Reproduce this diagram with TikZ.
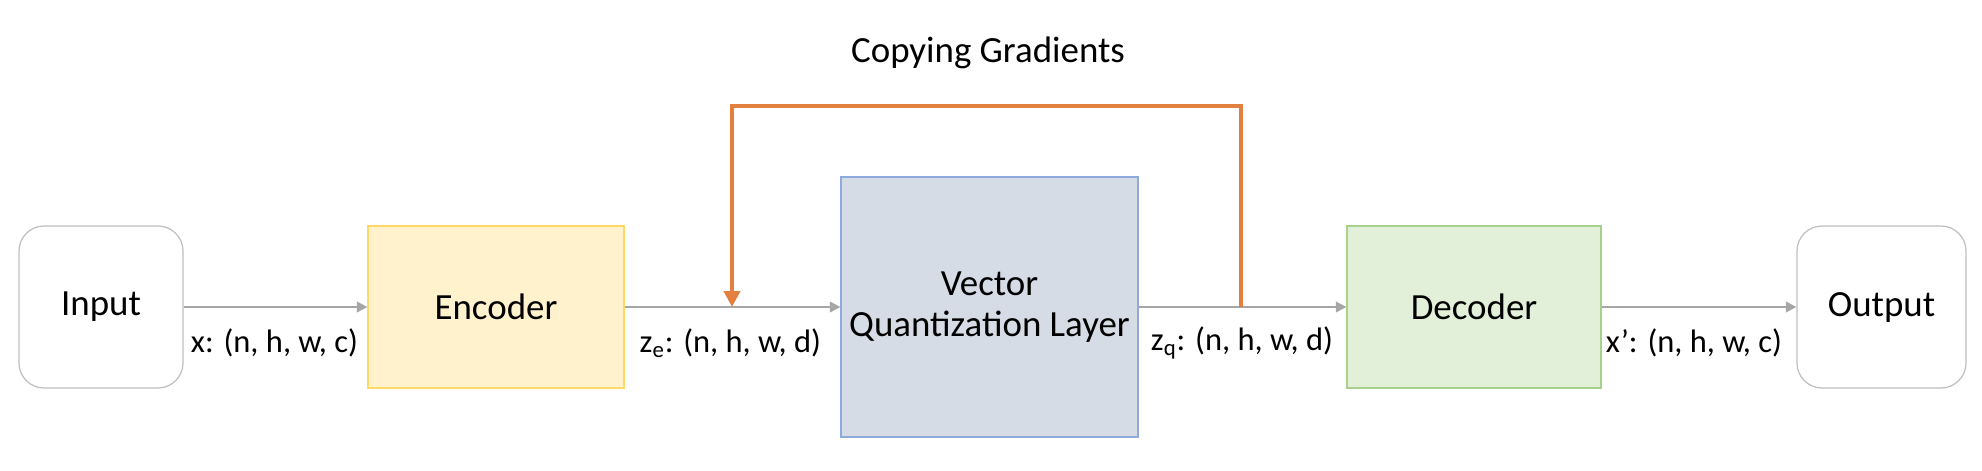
\documentclass[tikz,border=0pt]{standalone}
\usepackage{fontspec}
\setmainfont{Carlito}
\usetikzlibrary{arrows.meta,positioning}
\definecolor{encfill}{HTML}{FFF2CC}
\definecolor{encline}{HTML}{FFD966}
\definecolor{vqfill}{HTML}{D6DCE5}
\definecolor{vqline}{HTML}{8FAADC}
\definecolor{decfill}{HTML}{E2F0D9}
\definecolor{decline}{HTML}{A9D18E}
\definecolor{ioline}{HTML}{BFBFBF}
\definecolor{flowgrey}{HTML}{A6A6A6}
\definecolor{gradorange}{HTML}{E3803F}
\begin{document}
\begin{tikzpicture}[font=\fontsize{21}{25}\selectfont,
        iobox/.style={draw=ioline, line width=0.7pt, rounded corners=0.5cm, fill=white, minimum height=3.24cm},
        block/.style={draw, line width=0.7pt, minimum height=3.24cm, align=center},
        flow/.style={-{Triangle[length=6pt,width=6pt]}, draw=flowgrey, fill=flowgrey, line width=1.2pt},
        dimlabel/.style={inner sep=0pt, font=\fontsize{18.5}{22}\selectfont}]
        \useasboundingbox (0,0) rectangle (39.64,9.4);
        % Blocks
        \node[iobox, minimum width=3.28cm] (in) at (2.02,3.26) {Input};
        \node[block, draw=encline, fill=encfill, minimum width=5.12cm] (enc) at (9.92,3.26) {Encoder};
        \node[block, draw=vqline, fill=vqfill, minimum width=5.94cm, minimum height=5.2cm] (vq) at (19.79,3.26) {Vector\\[-2pt]Quantization Layer};
        \node[block, draw=decline, fill=decfill, minimum width=5.08cm] (dec) at (29.48,3.26) {Decoder};
        \node[iobox, minimum width=3.38cm] (out) at (37.63,3.26) {Output};

        % Data flow
        \draw[flow] (in) -- (enc);
        \draw[flow] (enc) -- (vq);
        \draw[flow] (vq) -- (dec);
        \draw[flow] (dec) -- (out);

        % Shapes
        \node[dimlabel, anchor=west] (xdim) at ([xshift=0.14cm,yshift=-0.72cm]in.east) {x: (n, h, w, c)};
        \node[dimlabel, anchor=east] (zedim) at ([xshift=-0.38cm,yshift=-0.72cm]vq.west) {z\textsubscript{e}: (n, h, w, d)};
        \node[dimlabel, anchor=west] (zqdim) at ([xshift=0.24cm,yshift=-0.72cm]vq.east) {z\textsubscript{q}: (n, h, w, d)};
        \node[dimlabel, anchor=west] (xrdim) at ([xshift=0.08cm,yshift=-0.72cm]dec.east) {x’: (n, h, w, c)};

        % Straight-through gradient
        \coordinate (gradfrom) at (24.82,3.26);
        \coordinate (gradto) at (14.64,3.26);
        \draw[-{Triangle[length=9pt,width=9pt]}, gradorange, line width=2.4pt]
            (gradfrom) -- ++(0,4.02) -| (gradto);
        \node (gradlabel) at (19.76,8.34) {Copying Gradients};
\end{tikzpicture}
\end{document}
